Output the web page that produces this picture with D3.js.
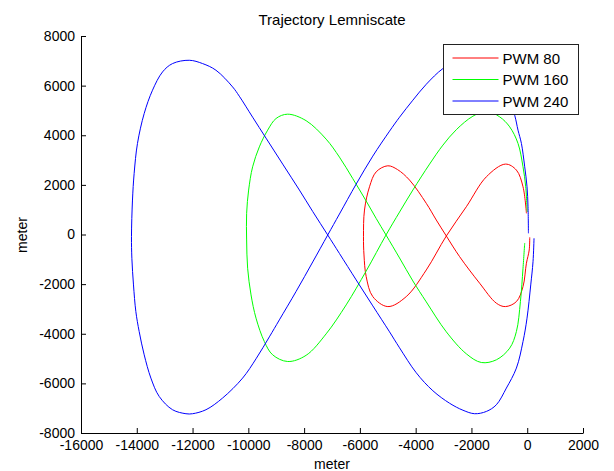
<!DOCTYPE html>
<html>
<head>
<meta charset="utf-8">
<script src="https://cdn.jsdelivr.net/npm/d3@7"></script>
<style>
  body { margin: 0; background: #fff; }
  text { font-family: "Liberation Sans", Arial, Helvetica, sans-serif; fill: #000; }
</style>
</head>
<body>
<script>
// values (meters)
var xTicks = [-16000, -14000, -12000, -10000, -8000, -6000, -4000, -2000, 0, 2000];
var yTicks = [-8000, -6000, -4000, -2000, 0, 2000, 4000, 6000, 8000];
var seriesNames = ["PWM 80", "PWM 160", "PWM 240"];
var seriesColors = ["#ff0000", "#00ff00", "#0000ff"];

var trackPwm80 = [
  [90, -113], [72, -624], [-29, -1159], [-151, -2101], [-388, -2704], [-783, -2905],
  [-1106, -2769], [-1706, -1964], [-2424, -893], [-2901, -60], [-3260, 583], [-3619, 1256],
  [-4219, 2193], [-4650, 2616], [-4998, 2769], [-5415, 2527], [-5655, 1924], [-5835, 986],
  [-5871, -89], [-5853, -825], [-5774, -1698], [-5537, -2503], [-4998, -2905], [-4338, -2503],
  [-3619, -1429], [-2901, -60], [-2183, 1119], [-1465, 2326], [-783, 2837], [-388, 2596],
  [-151, 1924], [-29, 853]
];

var trackPwm160 = [
  [-90, -342], [-151, -1360], [-244, -2704], [-388, -3911], [-628, -4579], [-1106, -5050],
  [-1645, -5159], [-2183, -4809], [-2901, -3923], [-3619, -2716], [-4101, -1871], [-4578, -946],
  [-5063, -20], [-5415, 644], [-5774, 1348], [-6255, 2253], [-6733, 3119], [-7210, 3843],
  [-7928, 4587], [-8589, 4849], [-9005, 4676], [-9307, 4205], [-9605, 3533], [-9846, 2728],
  [-9989, 1791], [-10061, 853], [-10061, -221], [-10025, -1360], [-9903, -2435], [-9724, -3372],
  [-9426, -4314], [-9128, -4849], [-8589, -5119], [-7928, -4869], [-7210, -4004], [-6492, -2837],
  [-5774, -1469], [-5063, -20], [-4578, 905], [-4101, 1791], [-3501, 2837], [-3023, 3602],
  [-2542, 4225], [-1946, 4769], [-1454, 4970], [-987, 4740], [-628, 4338], [-330, 3670],
  [-151, 2728], [-54, 1924], [0, 905]
];

var trackPwm240 = [
  [244, -153], [208, -1095], [126, -2032], [-7, -3372], [-151, -4314], [-388, -5384],
  [-747, -6189], [-1106, -6861], [-1465, -7131], [-1885, -7223], [-2305, -7082], [-2783, -6801],
  [-3382, -6298], [-3979, -5573], [-4578, -4567], [-4937, -3923], [-5537, -2877], [-6133, -1831],
  [-6733, -765], [-7153, -20], [-7691, 926], [-8169, 1791], [-8768, 2837], [-9365, 3883],
  [-9846, 4728], [-10323, 5573], [-10564, 5948], [-11160, 6620], [-11641, 6889], [-12119, 7022],
  [-12718, 6889], [-13077, 6551], [-13436, 5815], [-13734, 4877], [-13975, 3670], [-14094, 2463],
  [-14154, 1388], [-14190, -89], [-14176, -958], [-14118, -2032], [-14033, -3107], [-13914, -3911],
  [-13734, -4849], [-13494, -5787], [-13196, -6527], [-12718, -7062], [-12237, -7223], [-12000, -7223],
  [-11519, -7062], [-10923, -6591], [-10205, -5787], [-9724, -5010], [-9246, -4125], [-8887, -3441],
  [-8287, -2294], [-7691, -1107], [-7153, -20], [-6733, 825], [-6133, 2032], [-5537, 3159],
  [-4937, 4165], [-4578, 4728], [-4101, 5412], [-3619, 6056], [-3023, 6688], [-2424, 7062],
  [-1849, 7183], [-1203, 6861], [-772, 5895], [-450, 4809], [-330, 4205], [-208, 3670],
  [-90, 2728], [-7, 1924], [29, 1119], [43, 48]
];

var tracks = [trackPwm80, trackPwm160, trackPwm240];

var W = 614, H = 471;

var svg = d3.select("body").append("svg")
    .attr("width", W)
    .attr("height", H)
    .style("background-color", "#fff");

var x = d3.scaleLinear().domain([-16000, 2000]).range([81, 583]);
var y = d3.scaleLinear().domain([-8000, 8000]).range([433, 36]);

// title
svg.append("text")
    .attr("x", 332)
    .attr("y", 25)
    .attr("text-anchor", "middle")
    .style("font-size", "15px")
    .text("Trajectory Lemniscate");

// curves
var line = d3.line()
    .x(function (d) { return x(d[0]); })
    .y(function (d) { return y(d[1]); })
    .curve(d3.curveCatmullRom.alpha(0.5));

svg.append("g").selectAll("path")
    .data(tracks)
    .enter()
    .append("path")
    .attr("d", line)
    .attr("fill", "none")
    .attr("stroke", function (d, i) { return seriesColors[i]; })
    .attr("stroke-width", 1);

// axes, ticks pointing inward
var xAxis = d3.axisBottom(x)
    .tickValues(xTicks)
    .tickSizeInner(-5)
    .tickSizeOuter(0)
    .tickPadding(7)
    .tickFormat(function (d) { return String(d); });

var yAxis = d3.axisLeft(y)
    .tickValues(yTicks)
    .tickSizeInner(-5)
    .tickSizeOuter(0)
    .tickPadding(6)
    .tickFormat(function (d) { return String(d); });

var gx = svg.append("g")
    .attr("transform", "translate(0," + 433 + ")")
    .call(xAxis);

var gy = svg.append("g")
    .attr("transform", "translate(" + 81 + ",0)")
    .call(yAxis);

[gx, gy].forEach(function (g) {
    g.selectAll("text").style("font-size", "14px").attr("fill", "#000")
        .style("font-family", "'Liberation Sans', Arial, sans-serif");
    g.selectAll("line").attr("stroke", "#000");
    g.select(".domain").attr("stroke", "#000");
});

// axis labels
svg.append("text")
    .attr("x", 332)
    .attr("y", 469)
    .attr("text-anchor", "middle")
    .style("font-size", "14px")
    .text("meter");

svg.append("text")
    .attr("transform", "translate(27,235) rotate(-90)")
    .attr("text-anchor", "middle")
    .style("font-size", "14px")
    .text("meter");

// legend
var legend = svg.append("g").attr("transform", "translate(443.5,44.5)");

legend.append("rect")
    .attr("width", 135)
    .attr("height", 70)
    .attr("fill", "#fff")
    .attr("stroke", "#222")
    .attr("stroke-width", 1);

var rows = legend.selectAll("g.row")
    .data(seriesNames)
    .enter()
    .append("g")
    .attr("class", "row")
    .attr("transform", function (d, i) { return "translate(0," + (13.5 + i * 21.5) + ")"; });

rows.append("line")
    .attr("x1", 9)
    .attr("x2", 55)
    .attr("y1", 0)
    .attr("y2", 0)
    .attr("stroke", function (d, i) { return seriesColors[i]; })
    .attr("stroke-width", 1);

rows.append("text")
    .attr("x", 59)
    .attr("y", 5.5)
    .style("font-size", "15px")
    .text(function (d) { return d; });
</script>
</body>
</html>
